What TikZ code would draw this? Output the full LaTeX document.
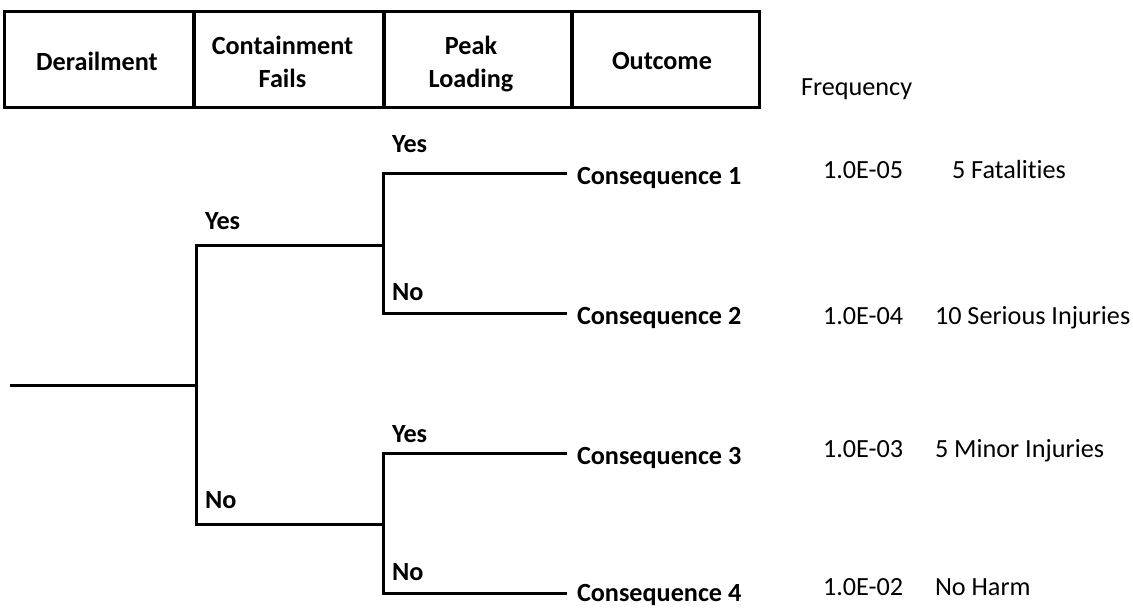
\documentclass[tikz,border=0pt]{standalone}
\usepackage{fontspec}
\setmainfont{Carlito}[Ligatures={NoCommon}]
\begin{document}
\begin{tikzpicture}[x=0.75pt,y=-0.75pt,
  txt/.style={font=\fontsize{19.65pt}{24.75pt}\selectfont, inner sep=0pt, outer sep=0pt},
  btxt/.style={font=\fontsize{19.65pt}{24.75pt}\selectfont\bfseries, inner sep=0pt, outer sep=0pt},
  hbox/.style={draw, line width=2.25pt, minimum height=72pt, inner sep=0pt, outer sep=0pt},
  branch/.style={line width=2.25pt, line join=miter},
  lbl/.style={btxt, anchor=base west},
  cons/.style={btxt, anchor=base west},
  val/.style={txt, anchor=base west}
]
\useasboundingbox (0,0) rectangle (1133,608);

% header row
\node[hbox, minimum width=141.75pt] (hDer)  at (98.5,59)  {};
\node[hbox, minimum width=141.75pt] (hCont) at (288.5,59) {};
\node[hbox, minimum width=140.25pt] (hPeak) at (477.5,59) {};
\node[hbox, minimum width=140.25pt] (hOut)  at (665.5,59) {};

% header titles (two-line titles sit on the baseline of their last line)
\node[btxt, anchor=base] (tDer)  at (97,70)    {Derailment};
\node[btxt, anchor=base, align=center] (tCont) at (282.5,87) {Containment\\Fails};
\node[btxt, anchor=base, align=center] (tPeak) at (471,87)   {Peak\\Loading};
\node[btxt, anchor=base] (tOut)  at (662,69)   {Outcome};
\node[val] (freq) at (801,95) {Frequency};

% branch points
\coordinate (root) at (10,385);
\coordinate (a)    at (196,385);
\coordinate (aY)   at (196,245);
\coordinate (aN)   at (196,524);
\coordinate (b)    at (383,245);
\coordinate (c)    at (383,524);
\coordinate (bY)   at (383,173);
\coordinate (bN)   at (383,313);
\coordinate (cY)   at (383,453);
\coordinate (cN)   at (383,593);
\coordinate (e1)   at (567,173);
\coordinate (e2)   at (567,313);
\coordinate (e3)   at (567,453);
\coordinate (e4)   at (567,593);

% tree
\draw[branch] (root) -- (a);
\draw[branch] (b) -- (aY) -- (aN) -- (c);
\draw[branch] (e1) -- (bY) -- (bN) -- (e2);
\draw[branch] (e3) -- (cY) -- (cN) -- (e4);

% branch labels
\node[lbl] (yes1) at (205,229) {Yes};
\node[lbl] (no1)  at (205,508) {No};
\node[lbl] (yes2) at (392,152) {Yes};
\node[lbl] (no2)  at (392,300) {No};
\node[lbl] (yes3) at (392,442) {Yes};
\node[lbl] (no3)  at (392,580) {No};

% outcomes
\node[cons] (c1) at (577,184) {Consequence 1};
\node[cons] (c2) at (577,324) {Consequence 2};
\node[cons] (c3) at (577,464) {Consequence 3};
\node[cons] (c4) at (577,601.5) {Consequence 4};

% frequencies and effects
\node[val] (f1) at (823,178) {1.0E-05};
\node[val] (f2) at (823,324) {1.0E-04};
\node[val] (f3) at (823,457) {1.0E-03};
\node[val] (f4) at (823,595) {1.0E-02};

\node[val] (o1) at (952,178) {5 Fatalities};
\node[val] (o2) at (935,324) {10 Serious Injuries};
\node[val] (o3) at (935,457) {5 Minor Injuries};
\node[val] (o4) at (935,595) {No Harm};
\end{tikzpicture}
\end{document}
